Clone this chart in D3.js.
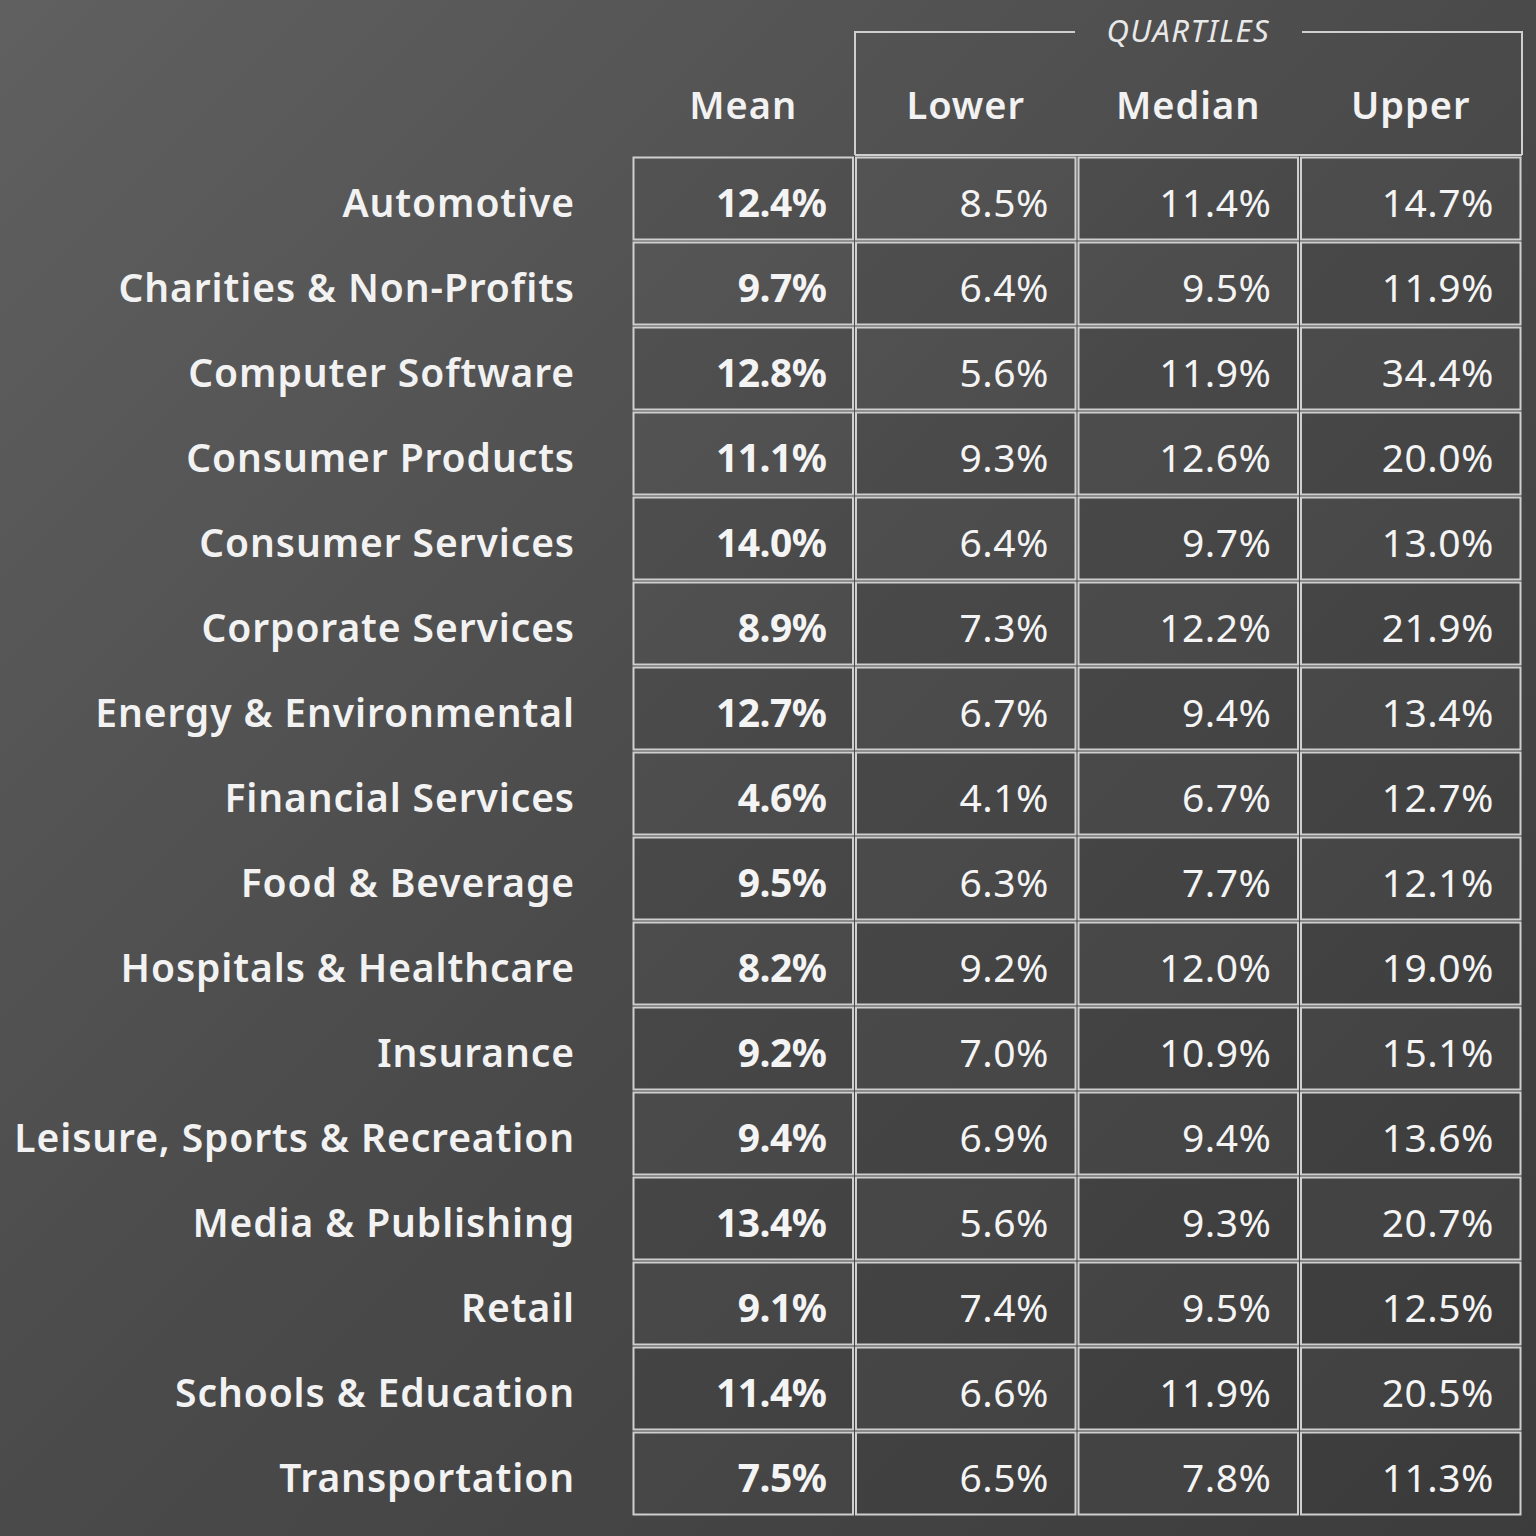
<!DOCTYPE html>
<html><head><meta charset="utf-8">
<script src="https://cdn.jsdelivr.net/npm/d3@7"></script>
<style>body{margin:0;background:#444}</style>
</head><body><svg id="chart"></svg>
<script>
var industries = ["Automotive","Charities & Non-Profits","Computer Software","Consumer Products","Consumer Services","Corporate Services","Energy & Environmental","Financial Services","Food & Beverage","Hospitals & Healthcare","Insurance","Leisure, Sports & Recreation","Media & Publishing","Retail","Schools & Education","Transportation"];
var columns = ["Mean","Lower","Median","Upper"];
var mean   = [12.4,9.7,12.8,11.1,14.0,8.9,12.7,4.6,9.5,8.2,9.2,9.4,13.4,9.1,11.4,7.5];
var lower  = [8.5,6.4,5.6,9.3,6.4,7.3,6.7,4.1,6.3,9.2,7.0,6.9,5.6,7.4,6.6,6.5];
var median = [11.4,9.5,11.9,12.6,9.7,12.2,9.4,6.7,7.7,12.0,10.9,9.4,9.3,9.5,11.9,7.8];
var upper  = [14.7,11.9,34.4,20.0,13.0,21.9,13.4,12.7,12.1,19.0,15.1,13.6,20.7,12.5,20.5,11.3];
var series = [mean, lower, median, upper];

var W = 1536, H = 1536;
var svg = d3.select("#chart").attr("width", W).attr("height", H)
  .style("font-family", "'Noto Sans', sans-serif");

var defs = svg.append("defs");
var g = defs.append("linearGradient").attr("id","bg").attr("x1","0").attr("y1","0").attr("x2","1").attr("y2","1");
g.append("stop").attr("offset","0").attr("stop-color","#606060");
g.append("stop").attr("offset","0.5").attr("stop-color","#4a4a4a");
g.append("stop").attr("offset","1").attr("stop-color","#3c3c3c");
svg.append("rect").attr("width",W).attr("height",H).attr("fill","url(#bg)");

var x = d3.scaleBand().domain(columns).range([632, 1522]);
var y = d3.scaleBand().domain(industries).range([156, 1516]);
var line = "#cfcfcf";

// header border for quartiles
svg.append("path")
  .attr("d", "M855,155 V32 H1075 M1302,32 H1522 V155")
  .attr("fill","none").attr("stroke",line).attr("stroke-width",2);
svg.append("line").attr("x1",855).attr("x2",1522).attr("y1",155).attr("y2",155)
  .attr("stroke",line).attr("stroke-width",2);
svg.append("text").attr("x",(x("Median")+x.bandwidth()/2)).attr("y",42)
  .attr("text-anchor","middle").attr("font-style","italic").attr("font-size",31)
  .attr("fill","#e8e8e8").attr("letter-spacing",1.5).text("QUARTILES");

svg.selectAll(".colhead").data(columns).enter().append("text")
  .attr("x", function(d){ return x(d) + x.bandwidth()/2; })
  .attr("y", 119).attr("text-anchor","middle").attr("font-size",38)
  .attr("font-weight",600).attr("letter-spacing",1).attr("fill","#f2f2f2").text(function(d){ return d; });

svg.selectAll(".rowhead").data(industries).enter().append("text")
  .attr("x", 575).attr("y", function(d){ return y(d) + y.bandwidth()/2 + 18; })
  .attr("text-anchor","end").attr("font-size",39).attr("font-weight",600)
  .attr("letter-spacing",0.9)
  .attr("fill","#f2f2f2").text(function(d){ return d; });

columns.forEach(function(c, ci){
  var cells = svg.append("g");
  cells.selectAll("rect").data(industries).enter().append("rect")
    .attr("x", x(c) + 1.5).attr("y", function(d){ return y(d) + 1.5; })
    .attr("width", x.bandwidth() - 3).attr("height", y.bandwidth() - 3)
    .attr("fill", function(d, i){ return (i + ci) % 2 ? "rgba(255,255,255,0.015)" : "rgba(0,0,0,0.02)"; })
    .attr("stroke", line).attr("stroke-width", 2);
  cells.selectAll("text").data(series[ci]).enter().append("text")
    .attr("x", x(c) + x.bandwidth() - 28)
    .attr("y", function(d, i){ return y(industries[i]) + y.bandwidth()/2 + 18; })
    .attr("text-anchor","end").attr("font-size",39)
    .attr("font-weight", ci === 0 ? 700 : 400)
    .attr("letter-spacing", ci === 0 ? -0.5 : 0.5)
    .attr("fill","#f4f4f4")
    .text(function(d){ return d.toFixed(1) + "%"; });
});
</script></body></html>
